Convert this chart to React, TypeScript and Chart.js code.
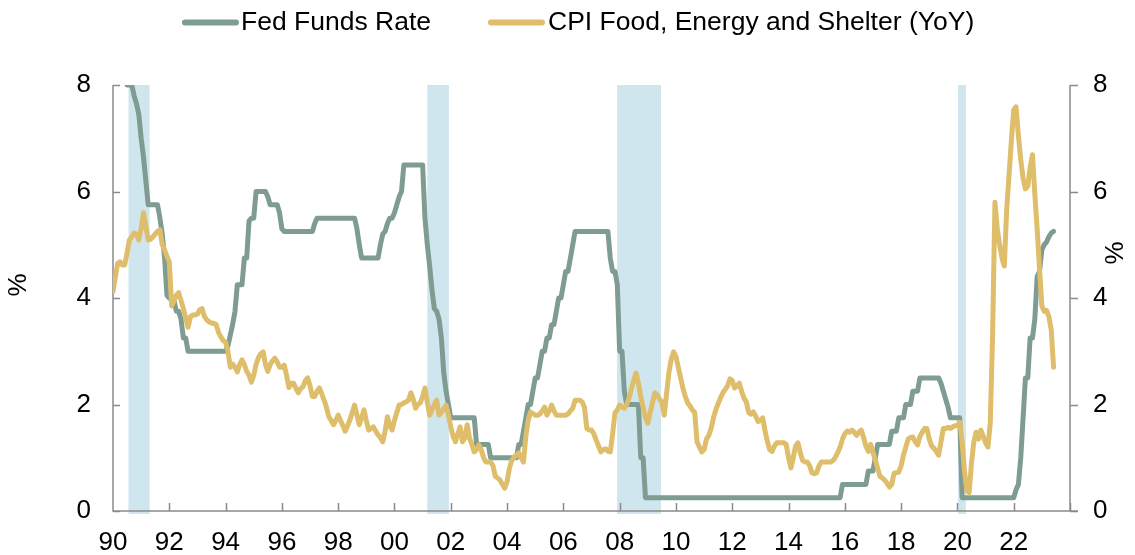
import { useEffect, useRef } from "react";
import { Chart, registerables } from "chart.js";

Chart.register(...registerables);

// ---------------- DATA ----------------
// Monthly observations, January 1990 through June 2023
const FIRST_YEAR = 1990;

const fedFundsRate: number[] = [
  // 1990
  8.25, 8.25, 8.25, 8.25, 8.25, 8.25, 8.0, 8.0, 8.0, 7.8, 7.65, 7.45,
  // 1991
  7.0, 6.65, 6.2, 5.75, 5.75, 5.75, 5.75, 5.75, 5.5, 5.2, 4.75, 4.05,
  // 1992
  4.0, 4.0, 3.95, 3.75, 3.75, 3.6, 3.25, 3.25, 3.0, 3.0, 3.0, 3.0,
  // 1993
  3.0, 3.0, 3.0, 3.0, 3.0, 3.0, 3.0, 3.0, 3.0, 3.0, 3.0, 3.0,
  // 1994
  3.0, 3.1, 3.3, 3.5, 3.75, 4.25, 4.25, 4.25, 4.75, 4.75, 5.45, 5.5,
  // 1995
  5.5, 6.0, 6.0, 6.0, 6.0, 6.0, 5.9, 5.75, 5.75, 5.75, 5.75, 5.6,
  // 1996
  5.3, 5.25, 5.25, 5.25, 5.25, 5.25, 5.25, 5.25, 5.25, 5.25, 5.25, 5.25,
  // 1997
  5.25, 5.25, 5.4, 5.5, 5.5, 5.5, 5.5, 5.5, 5.5, 5.5, 5.5, 5.5,
  // 1998
  5.5, 5.5, 5.5, 5.5, 5.5, 5.5, 5.5, 5.5, 5.3, 5.0, 4.75, 4.75,
  // 1999
  4.75, 4.75, 4.75, 4.75, 4.75, 4.75, 5.0, 5.2, 5.25, 5.4, 5.5, 5.5,
  // 2000
  5.6, 5.75, 5.9, 6.0, 6.5, 6.5, 6.5, 6.5, 6.5, 6.5, 6.5, 6.5,
  // 2001
  6.5, 5.5, 5.0, 4.6, 4.15, 3.8, 3.75, 3.6, 3.25, 2.6, 2.25, 2.0,
  // 2002
  1.75, 1.75, 1.75, 1.75, 1.75, 1.75, 1.75, 1.75, 1.75, 1.75, 1.75, 1.25,
  // 2003
  1.25, 1.25, 1.25, 1.25, 1.25, 1.0, 1.0, 1.0, 1.0, 1.0, 1.0, 1.0,
  // 2004
  1.0, 1.0, 1.0, 1.0, 1.0, 1.25, 1.25, 1.5, 1.75, 2.0, 2.0, 2.25,
  // 2005
  2.5, 2.5, 2.75, 3.0, 3.0, 3.25, 3.25, 3.5, 3.5, 3.75, 4.0, 4.0,
  // 2006
  4.25, 4.5, 4.5, 4.75, 5.0, 5.25, 5.25, 5.25, 5.25, 5.25, 5.25, 5.25,
  // 2007
  5.25, 5.25, 5.25, 5.25, 5.25, 5.25, 5.25, 5.25, 4.75, 4.5, 4.5, 4.25,
  // 2008
  3.0, 3.0, 2.25, 2.0, 2.0, 2.0, 2.0, 2.0, 2.0, 1.0, 1.0, 0.25,
  // 2009
  0.25, 0.25, 0.25, 0.25, 0.25, 0.25, 0.25, 0.25, 0.25, 0.25, 0.25, 0.25,
  // 2010
  0.25, 0.25, 0.25, 0.25, 0.25, 0.25, 0.25, 0.25, 0.25, 0.25, 0.25, 0.25,
  // 2011
  0.25, 0.25, 0.25, 0.25, 0.25, 0.25, 0.25, 0.25, 0.25, 0.25, 0.25, 0.25,
  // 2012
  0.25, 0.25, 0.25, 0.25, 0.25, 0.25, 0.25, 0.25, 0.25, 0.25, 0.25, 0.25,
  // 2013
  0.25, 0.25, 0.25, 0.25, 0.25, 0.25, 0.25, 0.25, 0.25, 0.25, 0.25, 0.25,
  // 2014
  0.25, 0.25, 0.25, 0.25, 0.25, 0.25, 0.25, 0.25, 0.25, 0.25, 0.25, 0.25,
  // 2015
  0.25, 0.25, 0.25, 0.25, 0.25, 0.25, 0.25, 0.25, 0.25, 0.25, 0.25, 0.5,
  // 2016
  0.5, 0.5, 0.5, 0.5, 0.5, 0.5, 0.5, 0.5, 0.5, 0.5, 0.75, 0.75,
  // 2017
  0.75, 1.0, 1.25, 1.25, 1.25, 1.25, 1.25, 1.25, 1.5, 1.5, 1.5, 1.75,
  // 2018
  1.75, 1.75, 2.0, 2.0, 2.0, 2.25, 2.25, 2.25, 2.5, 2.5, 2.5, 2.5,
  // 2019
  2.5, 2.5, 2.5, 2.5, 2.5, 2.4, 2.25, 2.1, 1.95, 1.75, 1.75, 1.75,
  // 2020
  1.75, 1.75, 0.25, 0.25, 0.25, 0.25, 0.25, 0.25, 0.25, 0.25, 0.25, 0.25,
  // 2021
  0.25, 0.25, 0.25, 0.25, 0.25, 0.25, 0.25, 0.25, 0.25, 0.25, 0.25, 0.25,
  // 2022
  0.25, 0.4, 0.5, 1.0, 1.75, 2.5, 2.5, 3.25, 3.25, 3.6, 4.4, 4.5,
  // 2023
  4.9, 5.0, 5.05, 5.15, 5.22, 5.25,
];

const cpiFoodEnergyShelter: number[] = [
  // 1990
  4.12, 4.4, 4.65, 4.68, 4.62, 4.62, 4.85, 5.09, 5.15, 5.22, 5.2, 5.09,
  // 1991
  5.3, 5.6, 5.35, 5.09, 5.1, 5.15, 5.2, 5.25, 5.28, 5.0, 4.9, 4.78,
  // 1992
  4.68, 3.85, 3.95, 4.05, 4.1, 3.95, 3.8, 3.62, 3.45, 3.65, 3.68, 3.68,
  // 1993
  3.7, 3.78, 3.8, 3.65, 3.59, 3.55, 3.53, 3.52, 3.5, 3.35, 3.27, 3.2,
  // 1994
  3.17, 3.0, 2.7, 2.76, 2.7, 2.61, 2.75, 2.84, 2.75, 2.62, 2.55, 2.42,
  // 1995
  2.55, 2.75, 2.88, 2.95, 2.99, 2.75, 2.62, 2.75, 2.82, 2.87, 2.8, 2.7,
  // 1996
  2.7, 2.74, 2.55, 2.32, 2.4, 2.4, 2.3, 2.22, 2.3, 2.33, 2.45, 2.5,
  // 1997
  2.35, 2.15, 2.15, 2.25, 2.31, 2.2, 2.08, 1.95, 1.77, 1.7, 1.62, 1.7,
  // 1998
  1.8, 1.7, 1.6, 1.5, 1.6, 1.71, 1.85, 1.99, 1.8, 1.62, 1.75, 1.9,
  // 1999
  1.7, 1.52, 1.55, 1.58, 1.5, 1.43, 1.38, 1.3, 1.5, 1.77, 1.6, 1.52,
  // 2000
  1.7, 1.85, 1.99, 2.0, 2.03, 2.05, 2.08, 2.22, 2.1, 1.93, 2.0, 2.03,
  // 2001
  2.15, 2.31, 2.05, 1.8, 1.9, 2.0, 2.08, 1.8, 1.85, 1.92, 1.99, 1.8,
  // 2002
  1.58, 1.4, 1.3, 1.45, 1.58, 1.3, 1.37, 1.62, 1.37, 1.25, 1.11, 1.15,
  // 2003
  1.24, 1.15, 1.0, 0.92, 0.92, 0.92, 0.85, 0.65, 0.62, 0.58, 0.5, 0.43,
  // 2004
  0.55, 0.8, 0.95, 1.01, 1.05, 1.09, 1.0, 0.92, 1.4, 1.7, 1.86, 1.83,
  // 2005
  1.8, 1.8, 1.82, 1.88, 1.95, 1.8, 1.88, 1.99, 1.88, 1.8, 1.8, 1.8,
  // 2006
  1.8, 1.8, 1.82, 1.88, 1.93, 2.08, 2.08, 2.08, 2.05, 1.95, 1.55, 1.52,
  // 2007
  1.52, 1.45, 1.33, 1.22, 1.11, 1.15, 1.17, 1.12, 1.11, 1.45, 1.84, 1.9,
  // 2008
  1.99, 1.96, 1.93, 2.0, 2.12, 2.3, 2.45, 2.59, 2.4, 2.15, 1.95, 1.75,
  // 2009
  1.65, 1.85, 2.03, 2.22, 2.18, 2.1, 2.05, 1.8, 2.2, 2.6, 2.85, 2.99,
  // 2010
  2.9, 2.7, 2.5, 2.3, 2.15, 2.03, 1.97, 1.9, 1.85, 1.3, 1.2, 1.11,
  // 2011
  1.15, 1.35, 1.42, 1.55, 1.75, 1.9, 2.02, 2.12, 2.22, 2.28, 2.35, 2.48,
  // 2012
  2.45, 2.31, 2.35, 2.4, 2.25, 2.12, 2.05, 1.85, 1.82, 1.86, 1.78, 1.68,
  // 2013
  1.7, 1.75, 1.5, 1.3, 1.15, 1.12, 1.22, 1.28, 1.28, 1.28, 1.28, 1.25,
  // 2014
  1.0, 0.81, 1.0, 1.22, 1.28, 1.1, 0.95, 0.92, 0.92, 0.85, 0.72, 0.7,
  // 2015
  0.72, 0.85, 0.92, 0.92, 0.92, 0.92, 0.92, 0.95, 1.01, 1.1, 1.2, 1.35,
  // 2016
  1.45, 1.5, 1.48, 1.52, 1.48, 1.42, 1.48, 1.52, 1.38, 1.22, 1.12, 1.25,
  // 2017
  1.1, 0.96, 0.8, 0.65, 0.62, 0.58, 0.52, 0.45, 0.5, 0.71, 0.72, 0.73,
  // 2018
  0.85, 1.05, 1.2, 1.35, 1.38, 1.39, 1.3, 1.24, 1.4, 1.48, 1.55, 1.55,
  // 2019
  1.35, 1.22, 1.18, 1.12, 1.05, 1.3, 1.55, 1.55, 1.57, 1.55, 1.58, 1.6,
  // 2020
  1.6, 1.67, 1.3, 0.75, 0.38, 0.34, 0.9, 1.3, 1.48, 1.35, 1.52, 1.4,
  // 2021
  1.28, 1.2, 1.65, 3.3, 5.8, 5.3, 5.0, 4.75, 4.6, 5.65, 6.3, 6.95,
  // 2022
  7.53, 7.59, 7.05, 6.6, 6.25, 6.05, 6.1, 6.45, 6.69, 5.95, 5.3, 4.55,
  // 2023
  3.85, 3.75, 3.77, 3.65, 3.4, 2.7,
];

// NBER recessions (decimal years)
const recessionStarts = [1990.55, 2001.165, 2007.91, 2020.02];
const recessionEnds = [1991.3, 2001.935, 2009.47, 2020.3];

const xTickYears = [1990, 1992, 1994, 1996, 1998, 2000, 2002, 2004, 2006, 2008, 2010, 2012, 2014, 2016, 2018, 2020, 2022];
const xTickLabels = ["90", "92", "94", "96", "98", "00", "02", "04", "06", "08", "10", "12", "14", "16", "18", "20", "22"];
const xAxisEndYear = 2024;
const yTickValues = [0, 2, 4, 6, 8];

const seriesNames = ["Fed Funds Rate", "CPI Food, Energy and Shelter (YoY)"];
const axisTitle = "%";

// ---------------- STYLE ----------------
const FED_COLOR = "#7E9C91";
const CPI_COLOR = "#DFBE6B";
const RECESSION_COLOR = "#CFE6EE";
const AXIS_COLOR = "#8A8A8A";
const FONT = "'Liberation Sans', Arial, Helvetica, sans-serif";
const TICK_FONT_SIZE = 26;
const LEGEND_FONT_SIZE = 26.5;

const toPoints = (values: number[]) =>
  values.map((v, i) => ({ x: FIRST_YEAR + i / 12, y: v }));

const framePlugin = {
  id: "frame",
  beforeDatasetsDraw(chart: any) {
    const { ctx, chartArea, scales } = chart;
    const xs = scales.x;
    const yl = scales.y;
    const yr = scales.y2;
    ctx.save();
    // recession shading
    ctx.fillStyle = RECESSION_COLOR;
    for (let i = 0; i < recessionStarts.length; i++) {
      const x0 = xs.getPixelForValue(recessionStarts[i]);
      const x1 = xs.getPixelForValue(recessionEnds[i]);
      ctx.fillRect(x0, chartArea.top, x1 - x0, chartArea.bottom - chartArea.top + 3);
    }
    // axes
    ctx.strokeStyle = AXIS_COLOR;
    ctx.lineWidth = 1.5;
    ctx.beginPath();
    ctx.moveTo(chartArea.left, chartArea.top);
    ctx.lineTo(chartArea.left, chartArea.bottom);
    ctx.lineTo(chartArea.right + 8, chartArea.bottom);
    ctx.moveTo(chartArea.right, chartArea.top);
    ctx.lineTo(chartArea.right, chartArea.bottom);
    // x ticks (inward)
    const tickYears = xTickYears.slice(1).concat([xAxisEndYear]);
    for (const yv of tickYears) {
      const px = Math.round(xs.getPixelForValue(yv)) + 0.5;
      ctx.moveTo(px, chartArea.bottom);
      ctx.lineTo(px, chartArea.bottom - 8);
    }
    // left ticks (inward)
    for (const v of yTickValues) {
      const py = Math.round(yl.getPixelForValue(v)) + 0.5;
      ctx.moveTo(chartArea.left, py);
      ctx.lineTo(chartArea.left + 7, py);
    }
    // right ticks (outward)
    for (const v of yTickValues) {
      const py = Math.round(yr.getPixelForValue(v)) + 0.5;
      ctx.moveTo(chartArea.right, py);
      ctx.lineTo(chartArea.right + 8, py);
    }
    ctx.stroke();
    ctx.restore();
  },
  afterDraw(chart: any) {
    const { ctx } = chart;
    ctx.save();
    // legend
    const legendY = 22.5;
    const items = [
      { color: FED_COLOR, x0: 185, x1: 236, tx: 241, label: seriesNames[0] },
      { color: CPI_COLOR, x0: 491, x1: 542, tx: 548, label: seriesNames[1] },
    ];
    ctx.font = `${LEGEND_FONT_SIZE}px ${FONT}`;
    ctx.textBaseline = "middle";
    ctx.textAlign = "left";
    for (const it of items) {
      ctx.strokeStyle = it.color;
      ctx.lineWidth = 6;
      ctx.lineCap = "round";
      ctx.beginPath();
      ctx.moveTo(it.x0, legendY);
      ctx.lineTo(it.x1, legendY);
      ctx.stroke();
      ctx.fillStyle = "#000";
      ctx.fillText(it.label, it.tx, legendY);
    }
    // axis titles
    ctx.font = `${TICK_FONT_SIZE}px ${FONT}`;
    ctx.textAlign = "center";
    ctx.textBaseline = "middle";
    ctx.save();
    ctx.translate(19, 285);
    ctx.rotate(-Math.PI / 2);
    ctx.fillText(axisTitle, 0, 0);
    ctx.restore();
    ctx.save();
    ctx.translate(1116, 253);
    ctx.rotate(-Math.PI / 2);
    ctx.fillText(axisTitle, 0, 0);
    ctx.restore();
    ctx.restore();
  },
};

export default function App() {
  const canvasRef = useRef<HTMLCanvasElement | null>(null);

  useEffect(() => {
    document.body.style.margin = "0";
    const canvas = canvasRef.current;
    if (!canvas) return;

    const tickFont = { family: FONT, size: TICK_FONT_SIZE };

    const chart = new Chart(canvas, {
      type: "line",
      data: {
        datasets: [
          {
            label: seriesNames[1],
            data: toPoints(cpiFoodEnergyShelter),
            borderColor: CPI_COLOR,
            backgroundColor: CPI_COLOR,
            borderWidth: 5,
            pointRadius: 0,
            tension: 0,
            borderJoinStyle: "round",
            borderCapStyle: "round",
            yAxisID: "y2",
            order: 0,
          },
          {
            label: seriesNames[0],
            data: toPoints(fedFundsRate),
            borderColor: FED_COLOR,
            backgroundColor: FED_COLOR,
            borderWidth: 5,
            pointRadius: 0,
            tension: 0,
            borderJoinStyle: "round",
            borderCapStyle: "round",
            yAxisID: "y",
            order: 1,
          },
        ],
      },
      options: {
        animation: false,
        responsive: false,
        devicePixelRatio: 1,
        parsing: false,
        normalized: true,
        layout: { padding: { top: 85, left: 0, right: 0, bottom: 0 } },
        plugins: {
          legend: { display: false },
          tooltip: { enabled: false },
          title: { display: false },
        },
        scales: {
          x: {
            type: "linear",
            min: FIRST_YEAR,
            max: xAxisEndYear,
            afterBuildTicks: (s: any) => {
              s.ticks = xTickYears.map((v) => ({ value: v }));
            },
            afterFit: (s: any) => {
              s.height = 44;
            },
            grid: { display: false, drawTicks: false },
            border: { display: false },
            ticks: {
              autoSkip: false,
              maxRotation: 0,
              minRotation: 0,
              padding: 16,
              color: "#000",
              font: tickFont,
              callback: (v: any) => {
                const i = xTickYears.indexOf(Number(v));
                return i >= 0 ? xTickLabels[i] : "";
              },
            },
          },
          y: {
            type: "linear",
            position: "left",
            min: 0,
            max: 8,
            afterBuildTicks: (s: any) => {
              s.ticks = yTickValues.map((v) => ({ value: v }));
            },
            afterFit: (s: any) => {
              s.width = 113;
            },
            grid: { display: false, drawTicks: false },
            border: { display: false },
            ticks: { padding: 22, color: "#000", font: tickFont },
          },
          y2: {
            type: "linear",
            position: "right",
            min: 0,
            max: 8,
            afterBuildTicks: (s: any) => {
              s.ticks = yTickValues.map((v) => ({ value: v }));
            },
            afterFit: (s: any) => {
              s.width = 65;
            },
            grid: { display: false, drawTicks: false },
            border: { display: false },
            ticks: { padding: 23, color: "#000", font: tickFont },
          },
        },
      },
      plugins: [framePlugin],
    } as any);

    return () => {
      chart.destroy();
    };
  }, []);

  return (
    <div style={{ position: "fixed", left: 0, top: 0, width: 1135, height: 555, background: "#fff" }}>
      <canvas ref={canvasRef} width={1135} height={555} style={{ width: 1135, height: 555 }} />
    </div>
  );
}
